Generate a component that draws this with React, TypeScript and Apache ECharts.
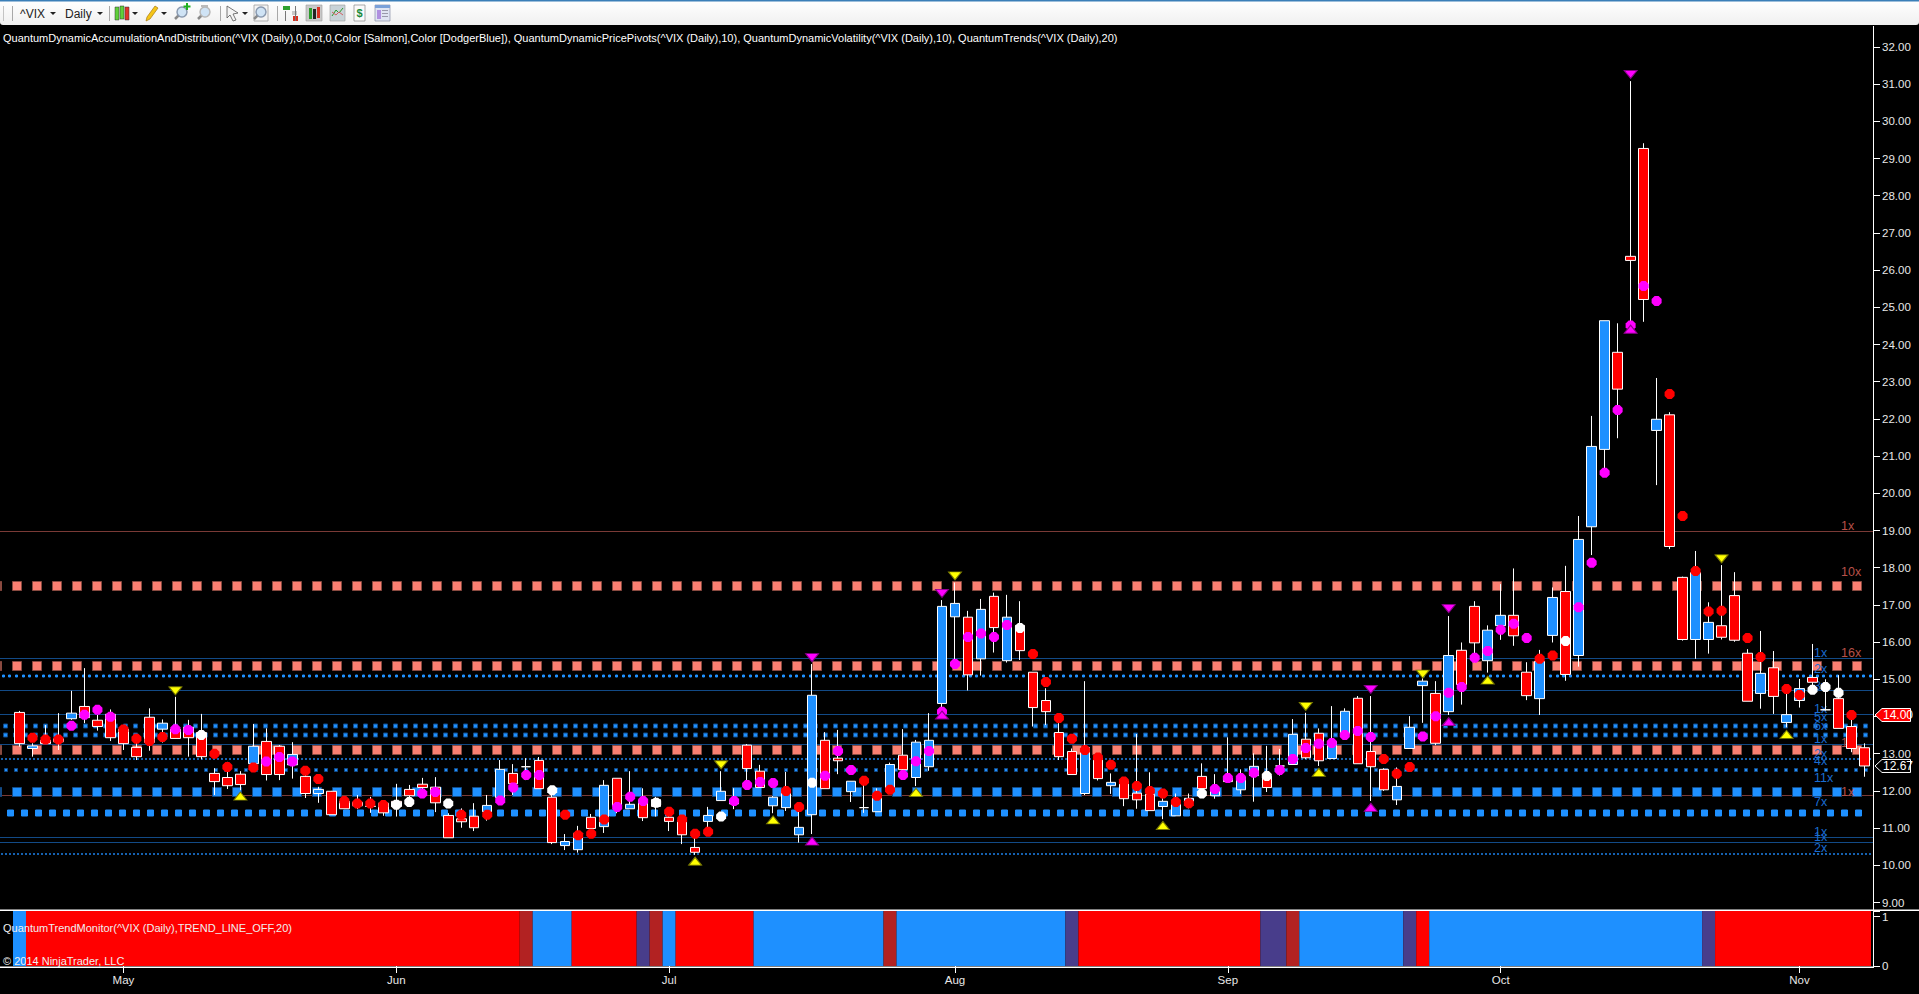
import React, { useEffect, useRef } from "react";
import * as echarts from "echarts";

// Candles, one entry per trading day
const opens = [14.11,13.14,13.36,13.40,13.94,14.27,13.90,14.06,13.66,13.17,13.98,13.66,13.66,13.71,13.57,12.47,12.36,12.45,12.73,13.33,
13.20,12.70,12.39,11.93,11.99,11.72,11.60,11.59,11.67,11.72,12.04,12.18,12.10,11.34,11.25,11.32,11.44,11.82,12.47,12.65,
12.82,11.83,10.53,10.42,11.29,11.04,12.34,11.52,11.75,11.77,11.29,11.21,10.48,11.18,11.74,11.75,13.23,12.53,11.60,11.55,
10.82,11.36,13.36,12.88,11.98,11.55,11.44,12.03,12.96,12.36,12.65,14.35,16.68,16.67,15.55,17.23,15.50,16.45,15.19,14.43,
13.57,13.06,11.93,12.88,12.14,12.26,11.94,11.91,11.58,11.33,11.72,12.39,11.87,12.34,12.03,12.41,12.39,12.67,12.71,13.39,
13.55,12.87,13.53,14.49,13.06,12.58,11.76,13.14,14.83,14.62,14.13,15.78,16.96,15.50,16.44,16.72,15.19,14.48,16.18,17.36,
15.64,19.10,21.18,23.79,26.37,29.27,21.69,22.11,17.74,16.07,16.07,16.44,17.25,15.70,14.62,15.31,13.84,14.43,15.05,14.18,
14.48,13.73,13.16];
const closes = [13.27,13.21,13.27,13.32,14.09,13.97,13.73,13.43,13.27,12.92,13.30,13.82,13.41,13.43,12.92,12.25,12.14,12.17,13.20,12.44,
12.44,12.98,11.93,12.04,11.36,11.52,11.69,11.58,11.41,11.58,11.87,12.09,11.68,10.74,11.17,11.01,11.61,12.58,12.19,12.65,
12.06,10.61,10.64,10.86,10.99,12.15,11.59,11.64,11.28,11.58,11.18,10.82,10.35,11.34,11.99,11.65,12.60,12.09,11.83,11.99,
11.02,14.57,12.06,12.81,12.26,11.55,11.86,12.71,12.57,13.31,13.36,16.96,17.04,15.12,16.88,16.39,16.67,15.77,14.24,14.13,
12.92,12.44,13.17,12.33,12.23,11.79,11.76,11.47,11.72,11.64,11.80,12.06,11.99,12.25,12.37,12.66,12.09,12.67,13.52,12.89,
12.81,13.33,14.14,12.73,12.65,12.03,12.12,13.71,14.95,13.28,15.64,14.86,15.98,16.32,16.72,16.17,14.56,15.48,17.20,15.13,
18.76,21.26,24.64,22.80,26.26,25.21,21.99,18.57,16.07,17.87,16.53,16.13,16.05,14.41,15.16,14.54,14.05,14.75,14.92,14.18,
13.68,13.14,12.67];
const lows = [13.19,12.92,13.27,13.10,13.91,13.82,13.62,13.34,13.10,12.83,13.08,13.30,13.41,12.92,12.85,11.89,12.05,12.02,12.73,12.28,
12.29,12.33,11.81,11.68,11.36,11.52,11.51,11.41,11.33,11.31,11.76,12.02,11.43,10.74,11.01,10.92,11.20,11.82,11.89,12.29,
12.06,10.57,10.41,10.34,10.99,10.87,11.40,11.52,11.19,11.31,10.92,10.57,10.28,10.99,11.74,11.51,12.16,12.09,11.40,11.46,
10.61,10.84,12.06,12.45,11.70,11.41,11.44,12.03,12.43,12.13,12.54,14.09,15.43,14.70,15.10,15.72,15.45,15.52,13.73,13.77,
12.83,12.44,11.89,12.28,11.92,11.59,11.52,11.47,11.24,11.33,11.53,12.06,11.79,12.25,11.92,11.71,11.97,12.41,12.71,12.86,
12.67,12.87,13.53,12.73,11.73,12.00,11.62,13.14,13.83,13.23,14.04,14.32,15.45,15.18,16.06,15.90,14.44,14.04,15.99,14.96,
15.34,18.34,20.58,21.48,24.48,24.61,20.22,18.50,16.04,15.55,15.69,16.07,16.01,14.41,14.21,14.07,13.71,14.24,14.80,14.16,
13.68,13.04,12.38];
const highs = [14.15,13.28,13.77,14.09,14.69,15.30,14.04,14.19,13.77,13.50,14.22,13.92,14.53,13.91,14.07,12.61,12.78,12.53,13.80,13.68,
13.23,13.31,12.56,12.11,12.00,11.84,11.89,11.84,11.71,12.19,12.16,12.35,12.37,11.40,11.53,11.67,11.89,12.83,12.72,12.88,
12.91,12.02,10.84,11.06,11.38,12.29,12.34,12.53,12.07,11.84,11.40,11.31,10.77,11.57,12.53,12.07,13.26,12.70,11.86,12.51,
11.58,15.41,13.58,13.64,12.26,12.16,12.07,12.76,13.66,13.37,14.09,17.13,17.60,16.84,17.16,17.33,17.27,17.10,15.19,14.76,
13.82,13.14,14.95,12.92,12.47,12.29,13.53,12.50,11.80,11.93,11.93,12.74,12.45,13.44,12.58,13.01,13.21,13.13,13.93,14.10,
13.68,14.28,14.22,14.55,14.55,12.61,12.63,14.01,15.05,14.95,16.70,15.99,17.10,16.45,17.56,17.98,15.46,15.79,17.47,18.05,
19.39,22.08,24.64,24.57,31.08,29.41,23.10,22.18,17.76,18.45,17.07,18.07,17.88,15.81,16.30,15.76,14.62,15.01,15.95,15.00,
15.11,14.16,13.28];

// Indicator dot for each day: price and colour key (r, m, w); null means no dot
const dotPrices = [null,13.43,13.38,13.38,13.75,14.05,14.18,13.99,13.65,13.40,13.34,13.45,13.66,13.64,13.50,13.00,12.64,null,12.63,12.79,
12.91,12.79,12.54,12.32,null,11.73,11.66,11.66,11.62,11.63,11.70,11.93,11.97,11.66,11.36,null,11.36,11.74,12.09,12.43,
12.43,12.02,11.36,10.81,10.85,11.23,11.57,11.84,11.73,11.68,11.44,11.23,10.85,10.90,11.31,11.73,12.16,12.24,12.21,12.00,
11.57,12.22,12.41,13.07,12.56,12.27,11.87,12.03,12.43,12.80,13.07,14.13,15.41,16.14,16.23,16.14,16.46,16.38,15.68,14.93,
13.96,13.40,13.10,12.90,12.70,12.25,12.13,12.00,11.93,11.70,11.67,11.93,12.05,12.35,12.35,12.49,12.40,12.56,12.86,13.15,
13.27,13.29,13.50,13.61,13.45,12.86,12.46,12.64,13.46,14.01,14.64,14.79,15.58,15.76,16.33,16.49,16.11,15.55,15.64,16.03,
16.94,18.13,20.55,22.24,24.51,25.57,25.17,22.67,19.39,17.91,16.82,16.84,null,16.11,15.60,null,14.74,14.58,14.72,14.79,
14.64,14.04,null];
const dotKinds = [
  "-rrrmmmmrrrrmmwrr-rm",
  "mmrr-rrrrwwmmwr-rmmm",
  "mwrrrrmmmwrrrrwmmmmr",
  "rwmmmrrrmmmmmmmmmwrr",
  "rrrrrrrrrrrwmmmmwmmm",
  "mmmmmrrrmmmmmmmmmrrw",
  "mmmmmmmrrrrr-rr-rrww",
  "wr-",
].join("");

// Pivot triangles: day index and price
const yellowDownDays = [12,54,72,99,108,131];
const yellowDownPrices = [14.69,12.70,17.78,14.27,15.14,18.24];
const yellowUpDays = [17,52,58,69,88,100,113,136];
const yellowUpPrices = [11.86,10.11,11.22,11.96,11.07,12.50,14.98,13.52];
const magentaDownDays = [61,71,104,110,124];
const magentaDownPrices = [15.58,17.31,14.73,16.90,31.26];
const magentaUpDays = [61,71,104,110,124];
const magentaUpPrices = [10.65,14.04,11.56,13.86,24.41];

// Trend monitor: runs of [state, days]
const trendRuns: [string, number][] = [["b",1],["r",38],["d",1],["b",3],["r",5],["p",1],["d",1],["b",1],["r",6],["b",10],["d",1],["b",13],["p",1],["r",14],["p",2],["d",1],["b",8],["p",1],["r",1],["b",21],["p",1],["r",12]];

// Month ticks: day index and label
const monthDays = [8,29,50,72,93,114,137];
const monthNames = ["May","Jun","Jul","Aug","Sep","Oct","Nov"];

// Horizontal levels
const thinLevels = [15.56,14.70,14.06,13.25,10.75,10.62];
const brownLevels = [19.0,11.89];
const salmonLevels = [17.50,15.36,13.11];
const bigBlueLevels = [11.96];
const midBlueLevels = [11.40];
const smallBlueLevels = [13.74,13.49];
const tinyBlueLevels = [12.55];
const dottedLevels = [15.08];
const fineLevels = [12.85,10.30];

// Level captions
const salmonLabelPrices = [19.13,17.88,15.72,11.98,13.29];
const salmonLabels = ["1x","10x","16x","1x","1x"];
const blueLabelPrices = [15.70,15.27,14.82,14.20,13.99,13.75,13.40,13.00,12.80,12.36,11.70,10.90,10.76,10.46];
const blueLabels = ["1x","2x","3x","1x","5x","6x","1x","2x","4x","11x","7x","1x","1x","2x"];

const priceTags: [number, string, string][] = [[14.04,"14.00","#ff0000"],[12.67,"12.67","#000000"]];
const hiddenAxisLabels = [14];
const yMin = 9, yMax = 32;

const headerText = "QuantumDynamicAccumulationAndDistribution(^VIX (Daily),0,Dot,0,Color [Salmon],Color [DodgerBlue]), QuantumDynamicPricePivots(^VIX (Daily),10), QuantumDynamicVolatility(^VIX (Daily),10), QuantumTrends(^VIX (Daily),20)";
const trendText = "QuantumTrendMonitor(^VIX (Daily),TREND_LINE_OFF,20)";
const copyText = "\u00a9 2014 NinjaTrader, LLC";

const UI = "'Liberation Sans', Arial, sans-serif";
const BLUE = "#1e90ff", RED = "#ff0000", SALMON = "#fa8072";
const OCT = "path://M3,0 L7,0 L10,3 L10,7 L7,10 L3,10 L0,7 L0,3 Z";

type Style = { kind: "line" | "squares" | "dots"; color: string; size?: number; step?: number; start?: number; stroke?: string };
const levelRows: { price: number; st: Style }[] = [
  ...brownLevels.map((price) => ({ price, st: { kind: "line" as const, color: "#7a3a36" } })),
  ...thinLevels.map((price) => ({ price, st: { kind: "line" as const, color: "#124a86" } })),
  ...salmonLevels.map((price) => ({ price, st: { kind: "squares" as const, color: SALMON, size: 10, step: 20, start: -3, stroke: "#8a4a40" } })),
  ...bigBlueLevels.map((price) => ({ price, st: { kind: "squares" as const, color: BLUE, size: 10, step: 20, start: -3, stroke: "#124a86" } })),
  ...midBlueLevels.map((price) => ({ price, st: { kind: "squares" as const, color: BLUE, size: 7, step: 14, start: 10 } })),
  ...smallBlueLevels.map((price) => ({ price, st: { kind: "squares" as const, color: BLUE, size: 5, step: 10, start: 5, stroke: "#124a86" } })),
  ...tinyBlueLevels.map((price) => ({ price, st: { kind: "squares" as const, color: BLUE, size: 4, step: 10, start: 6, stroke: "#124a86" } })),
  ...dottedLevels.map((price) => ({ price, st: { kind: "dots" as const, color: BLUE, size: 3, step: 6.67, start: 3 } })),
  ...fineLevels.map((price) => ({ price, st: { kind: "dots" as const, color: "#1a78d8", size: 2, step: 4, start: 2 } })),
];

function rect(x: number, y: number, w: number, h: number, fill: string, extra: any = {}) {
  return { type: "rect", shape: { x, y, width: w, height: h }, style: { fill, ...extra }, silent: true };
}
function txt(text: string, x: number, y: number, fill: string, font: string) {
  return { type: "text", x, y, silent: true, style: { text, fill, font, verticalAlign: "middle", align: "left" } };
}
function arrow(x: number) {
  return { type: "polygon", silent: true, shape: { points: [[x, 12], [x + 6, 12], [x + 3, 15]] }, style: { fill: "#222" } };
}
function sep(x: number) {
  return rect(x, 6, 1, 15, "#a8a8a8");
}
function lens(cx: number, cy: number, ring: string, extra: any[] = []) {
  return [
    { type: "line", silent: true, shape: { x1: cx - 3, y1: cy + 3, x2: cx - 7, y2: cy + 7 }, style: { stroke: "#8a8a8a", lineWidth: 2.5 } },
    { type: "circle", silent: true, shape: { cx, cy, r: 5 }, style: { fill: "#cfe3f5", stroke: ring, lineWidth: 1.5 } },
    ...extra,
  ];
}

function toolbar() {
  const els: any[] = [
    rect(0, 0, 1919, 26, "#000"),
    {
      type: "rect", silent: true, shape: { x: 0, y: 1, width: 1919, height: 24, r: [0, 0, 3, 3] },
      style: { fill: new echarts.graphic.LinearGradient(0, 0, 0, 1, [{ offset: 0, color: "#ffffff" }, { offset: 1, color: "#f0f0f0" }]) },
    },
    rect(0, 0, 1919, 1.5, "#3b7fb8"),
    rect(3, 6, 1, 15, "#c4c4c4"),
    sep(12), sep(109), sep(220), sep(277),
    txt("^VIX", 20, 13.5, "#222", `12px ${UI}`), arrow(50),
    txt("Daily", 65, 13.5, "#222", `12px ${UI}`), arrow(97),
    rect(115, 7, 4, 13, "#5fcf3a", { stroke: "#333", lineWidth: 0.5 }), rect(120, 6, 4, 13, "#5fcf3a", { stroke: "#333", lineWidth: 0.5 }), rect(125, 7, 4, 13, "#e0352b", { stroke: "#333", lineWidth: 0.5 }), arrow(132),
    { type: "polygon", silent: true, shape: { points: [[146, 21], [147, 17], [155, 6], [158, 8], [150, 19]] }, style: { fill: "#f5c518", stroke: "#a87a10", lineWidth: 0.7 } }, arrow(161),
    ...lens(182, 12, "#8a9ab0", [rect(186, 3, 2, 7, "#20b020"), rect(183.5, 5.5, 7, 2, "#20b020")]),
    ...lens(205, 12, "#b8b8b8", [rect(201, 5, 7, 2, "#bbb")]),
    { type: "polygon", silent: true, shape: { points: [[227, 6], [238, 13], [233, 14], [236, 20], [233, 21], [230, 15], [227, 18]] }, style: { fill: "#f4f4f4", stroke: "#555", lineWidth: 0.8 } }, arrow(242),
    rect(254, 5, 14, 16, "#f4f4f4", { stroke: "#a0a0a0", lineWidth: 0.8 }),
    ...lens(261, 12, "#8a9ab0"),
    rect(283, 6, 7, 4, "#2ea02e"), rect(292, 11, 5, 4, "#c8c8c8"), rect(293, 16, 5, 5, "#d83020"), rect(285, 11, 1, 10, "#777"), rect(295, 6, 1, 15, "#777"),
    rect(306, 5, 16, 16, "#c9c9c9", { stroke: "#9a9a9a", lineWidth: 0.6 }), rect(309, 8, 3, 11, "#2a9a2a"), rect(313, 9, 3, 10, "#222"), rect(317, 7, 3, 11, "#d83020"),
    rect(330, 5, 15, 16, "#c9d3d8", { stroke: "#9a9a9a", lineWidth: 0.6 }),
    { type: "polyline", silent: true, shape: { points: [[332, 16], [336, 10], [339, 13], [343, 8]] }, style: { stroke: "#2a9a2a", fill: "none", lineWidth: 1 } },
    { type: "polyline", silent: true, shape: { points: [[332, 12], [336, 15], [339, 12], [343, 15]] }, style: { stroke: "#d06060", fill: "none", lineWidth: 1 } },
    rect(354, 5, 11, 16, "#fafafa", { stroke: "#888", lineWidth: 0.7 }),
    { type: "text", silent: true, x: 359.5, y: 13, style: { text: "$", fill: "#1a8a3a", font: `bold 11px ${UI}`, align: "center", verticalAlign: "middle" } },
    rect(375, 5, 15, 16, "#dfe4f2", { stroke: "#8a8fa8", lineWidth: 0.7 }), rect(375, 5, 15, 3, "#7aa0d8"), rect(377, 10, 4, 9, "#b090e0"), rect(382, 10, 6, 1, "#99a"), rect(382, 13, 6, 1, "#99a"), rect(382, 16, 6, 1, "#99a"),
  ];
  return els;
}

function App() {
  const ref = useRef<HTMLDivElement>(null);
  useEffect(() => {
    document.body.style.margin = "0";
    document.body.style.background = "#000";
    const chart = echarts.init(ref.current!, undefined, { renderer: "svg" });
    const total = opens.length + 1;
    const cats = Array.from({ length: total }, (_, k) => {
      const m = monthDays.indexOf(k - 1);
      return m >= 0 ? monthNames[m] : "";
    });
    const isMonth = (idx: number) => monthDays.includes(idx - 1);

    const candles: any[] = [["-", "-", "-", "-"]];
    opens.forEach((o, i) => candles.push([o, closes[i], lows[i], highs[i]]));

    const kindColor: Record<string, string> = { r: RED, m: "#ff00ff", w: "#ffffff" };
    const dots: any[] = [];
    dotPrices.forEach((p, i) => {
      if (p !== null) dots.push({ value: [i + 1, p], itemStyle: { color: kindColor[dotKinds[i]] || RED, opacity: 1 } });
    });

    const trendColor: Record<string, string> = { b: BLUE, r: RED, d: "#b22222", p: "#483d8b" };
    const trendMax = 1.116;
    const trendData: any[] = [];
    let cursor = 1;
    trendRuns.forEach(([s, n]) => {
      trendData.push({ value: [cursor, cursor + n - 1, trendMax], color: trendColor[s] });
      cursor += n;
    });

    const tri = (days: number[], prices: number[], color: string, rotate: number, edge: string) => ({
      type: "scatter", xAxisIndex: 0, yAxisIndex: 0, z: 5, silent: true,
      symbol: "triangle", symbolSize: [13, 8], symbolRotate: rotate,
      itemStyle: { color, borderColor: edge, borderWidth: 1, opacity: 1 },
      data: days.map((d, i) => [d + 1, prices[i]]),
    });

    const textRows = [
      ...salmonLabelPrices.map((p, i) => ({ p, t: salmonLabels[i], c: "#b85048", off: 32 })),
      ...blueLabelPrices.map((p, i) => ({ p, t: blueLabels[i], c: "#1a6cd0", off: 59 })),
    ];

    const axisText = { color: "#e8e8e8", fontFamily: "Liberation Sans", fontSize: 11.5 };

    chart.setOption({
      animation: false,
      backgroundColor: "#000000",
      grid: [
        { left: -1, top: 46.9, width: 1872, height: 855.6 },
        { left: -1, top: 911, width: 1872, height: 55 },
      ],
      xAxis: [
        { type: "category", gridIndex: 0, data: cats, boundaryGap: true, axisLine: { show: false }, axisTick: { show: false }, axisLabel: { show: false }, splitLine: { show: false } },
        {
          type: "category", gridIndex: 1, data: cats, boundaryGap: true,
          axisLine: { show: false },
          axisTick: { show: true, length: 7, interval: (i: number) => isMonth(i), alignWithLabel: true, lineStyle: { color: "#fff" } },
          axisLabel: { show: true, interval: (i: number) => isMonth(i), margin: 8, ...axisText },
          splitLine: { show: false },
        },
      ],
      yAxis: [
        {
          type: "value", gridIndex: 0, position: "right", min: yMin, max: yMax, interval: 1, offset: 2,
          axisLine: { show: false }, splitLine: { show: false },
          axisTick: { show: true, length: 7, lineStyle: { color: "#fff" } },
          axisLabel: { margin: 9, ...axisText, formatter: (v: number) => (hiddenAxisLabels.includes(v) ? "" : v.toFixed(2)) },
        },
        {
          type: "value", gridIndex: 1, position: "right", min: 0, max: trendMax, interval: 1, offset: 2,
          axisLine: { show: false }, splitLine: { show: false },
          axisTick: { show: true, length: 7, lineStyle: { color: "#fff" } },
          axisLabel: { margin: 9, ...axisText, formatter: (v: number) => (v === 0 || v === 1 ? String(v) : "") },
        },
      ],
      series: [
        {
          type: "custom", xAxisIndex: 0, yAxisIndex: 0, z: 1, silent: true,
          data: levelRows.map((r) => [0, r.price]),
          renderItem: (params: any, api: any) => {
            const row = levelRows[params.dataIndex];
            const y = Math.round(api.coord([0, api.value(1)])[1]);
            const x1 = 1873;
            const st = row.st;
            if (st.kind === "line") {
              return { type: "rect", shape: { x: 0, y, width: x1, height: 1 }, style: { fill: st.color } };
            }
            const s = st.size!;
            const children: any[] = [];
            for (let cx = st.start!; cx < x1 - s / 2 + 1; cx += st.step!) {
              const left = Math.max(Math.round(cx - s / 2), 0);
              const right = Math.min(Math.round(cx + s / 2), x1);
              children.push({
                type: "rect",
                shape: { x: left + 0.5, y: y - s / 2 + 0.5, width: Math.max(right - left - 1, 1), height: s - 1 },
                style: { fill: st.color, stroke: st.stroke || st.color, lineWidth: 1 },
              });
            }
            return { type: "group", children };
          },
        },
        {
          type: "custom", xAxisIndex: 0, yAxisIndex: 0, z: 2, silent: true,
          data: textRows.map((r) => [0, r.p]),
          renderItem: (params: any, api: any) => {
            const row = textRows[params.dataIndex];
            const y = api.coord([0, api.value(1)])[1];
            return {
              type: "text", x: 1873 - row.off, y,
              style: { text: row.t, fill: row.c, font: `12.5px ${UI}`, align: "left", verticalAlign: "middle" },
            };
          },
        },
        {
          type: "candlestick", xAxisIndex: 0, yAxisIndex: 0, z: 3, silent: true, barWidth: 10, clip: false,
          itemStyle: {
            color: BLUE, color0: RED, borderColor: "#ffffff", borderColor0: "#ffffff", borderColorDoji: "#ffffff", borderWidth: 1,
          },
          data: candles,
        },
        {
          type: "scatter", xAxisIndex: 0, yAxisIndex: 0, z: 4, silent: true, symbol: OCT, symbolSize: 10, data: dots,
        },
        tri(yellowDownDays, yellowDownPrices, "#ffff00", 180, "#7a7a00"),
        tri(yellowUpDays, yellowUpPrices, "#ffff00", 0, "#7a7a00"),
        tri(magentaDownDays, magentaDownPrices, "#ff00ff", 180, "#8a008a"),
        tri(magentaUpDays, magentaUpPrices, "#ff00ff", 0, "#8a008a"),
        {
          type: "custom", xAxisIndex: 1, yAxisIndex: 1, z: 2, silent: true,
          data: trendData,
          encode: { x: [0, 1], y: 2 },
          renderItem: (params: any, api: any) => {
            const top = api.coord([api.value(0), api.value(2)]);
            const bottom = api.coord([api.value(1), 0]);
            const band = api.size([1, 0])[0];
            return {
              type: "rect",
              shape: { x: top[0] - band / 2, y: top[1], width: bottom[0] - top[0] + band, height: bottom[1] - top[1] },
              style: { fill: trendData[params.dataIndex].color },
            };
          },
        },
        {
          type: "custom", xAxisIndex: 0, yAxisIndex: 0, z: 6, silent: true,
          data: priceTags.map((t) => [0, t[0]]),
          renderItem: (params: any, api: any) => {
            const tag = priceTags[params.dataIndex];
            const y = api.coord([0, api.value(1)])[1];
            return {
              type: "group",
              children: [
                {
                  type: "polygon",
                  shape: { points: [[1875, y], [1882, y - 6.5], [1910.5, y - 6.5], [1910.5, y + 6.5], [1882, y + 6.5]] },
                  style: { fill: tag[2], stroke: "#ffffff", lineWidth: 1 },
                },
                {
                  type: "text", x: 1883, y,
                  style: { text: tag[1], fill: "#ffffff", font: `12px ${UI}`, align: "left", verticalAlign: "middle" },
                },
              ],
            };
          },
        },
      ],
      graphic: {
        elements: [
          ...toolbar(),
          txt(headerText, 3, 38, "#ffffff", `11px ${UI}`),
          rect(1873, 26, 1, 942, "#ffffff"),
          rect(0, 909.5, 1919, 1.5, "#ffffff"),
          rect(0, 966.5, 1873, 1.5, "#ffffff"),
          txt(trendText, 3, 928, "#f0f0f0", `11px ${UI}`),
          txt(copyText, 3, 961, "#f0f0f0", `11px ${UI}`),
        ].map((el: any) => ({ ...el, z: 100 })),
      },
    });
    return () => chart.dispose();
  }, []);
  return <div ref={ref} style={{ position: "fixed", left: 0, top: 0, width: 1919, height: 994, background: "#000" }} />;
}

export default App;
